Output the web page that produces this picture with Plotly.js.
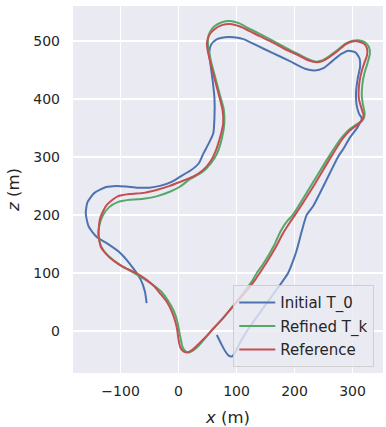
<!DOCTYPE html>
<html>
<head>
<meta charset="utf-8">
<script src="https://cdn.plot.ly/plotly-3.0.1.min.js"></script>
<style>
  html, body { margin: 0; padding: 0; background: #fff; }
  #myDiv { width: 386px; height: 427px; }
</style>
</head>
<body>
<div id="myDiv"></div>
<script>
// trajectories (x, z in metres)
var initX = [-55, -58, -65, -78, -101, -125, -141, -155, -160, -157, -145, -125, -107, -90, -70, -50, -32, -12, 3, 20, 35, 43, 53, 60, 62, 62, 59, 55, 53, 56, 65, 80, 95, 112, 135, 160, 192, 218, 235, 250, 265, 280, 293, 305, 312, 313, 309, 306, 307, 311, 316, 308, 296, 285, 275, 260, 245, 232, 221, 212, 204, 198, 189, 169, 145, 120, 105, 97, 92, 86, 80, 73, 66];
var initZ = [48, 68, 88, 108, 135, 152, 162, 180, 203, 222, 238, 248, 250, 249, 247, 247, 250, 257, 266, 276, 289, 306, 325, 341, 370, 400, 430, 460, 480, 493, 502, 506, 506, 503, 492, 480, 465, 452, 449, 453, 465, 477, 483, 480, 470, 455, 435, 410, 390, 375, 366, 350, 334, 315, 300, 270, 240, 215, 200, 170, 140, 122, 100, 71, 38, 3, -22, -38, -44, -42, -34, -21, -7];

var refinedX = [-30, -18, -8, -2, 1, 4, 7, 12, 18, 26, 35, 48, 60, 78, 97, 115, 128, 135, 147, 164, 176, 188, 197, 227, 259, 279, 293, 307, 318, 321, 318, 316, 317, 320, 326, 330, 328, 321, 310, 300, 288, 274, 259, 247, 238, 225, 205, 185, 163, 140, 120, 105, 89, 75, 62, 54, 51, 51, 56, 63, 71, 78, 79, 75, 66, 55, 40, 20, 3, -15, -38, -60, -84, -105, -120, -131, -137, -138, -133, -122, -101, -80, -60, -45, -30];
var refinedZ = [68, 52, 34, 16, 0, -15, -28, -35, -37, -33, -25, -10, 4, 24, 46, 70, 88, 100, 117, 146, 172, 190, 200, 248, 300, 330, 346, 356, 364, 374, 390, 405, 425, 442, 462, 478, 490, 498, 501, 500, 495, 484, 473, 466, 464, 468, 478, 488, 500, 512, 522, 530, 534, 532, 525, 515, 505, 490, 465, 438, 408, 382, 358, 333, 305, 288, 273, 262, 249, 240, 232, 228, 226, 222, 213, 198, 180, 163, 145, 130, 114, 102, 90, 80, 68];

var refX = [-32, -20, -11, -5, -2, 0, 3, 8, 14, 22, 31, 45, 57, 75, 95, 118, 132, 140, 150, 168, 180, 192, 201, 230, 263, 282, 295, 308, 316, 319, 315, 311, 311, 314, 319, 325, 325, 320, 310, 300, 288, 275, 260, 248, 238, 225, 205, 185, 163, 140, 120, 105, 89, 75, 62, 53, 49, 50, 55, 62, 70, 76, 77, 72, 64, 55, 42, 25, 3, -15, -38, -60, -84, -105, -124, -135, -138, -134, -124, -112, -95, -75, -55, -42, -32];
var refZ = [65, 50, 32, 14, 0, -15, -28, -35, -37, -34, -26, -12, 1, 20, 44, 70, 88, 100, 115, 145, 168, 187, 200, 245, 300, 330, 345, 355, 362, 372, 385, 400, 420, 440, 458, 475, 487, 495, 499, 499, 494, 483, 472, 465, 463, 466, 476, 485, 497, 508, 518, 525, 529, 527, 520, 510, 497, 485, 462, 435, 405, 380, 358, 335, 310, 292, 277, 266, 257, 250, 243, 238, 236, 232, 217, 195, 168, 145, 132, 121, 110, 101, 88, 77, 65];

var names = ['Initial T_0', 'Refined T_k', 'Reference'];
var colors = ['#4C72B0', '#55A868', '#C44E52'];

var data = [
    {x: initX, y: initZ, mode: 'lines', type: 'scatter', name: names[0], legendgroup: 'a',
     line: {color: colors[0], width: 2, shape: 'spline', smoothing: 0.6}},
    {x: refinedX, y: refinedZ, mode: 'lines', type: 'scatter', name: names[1], legendgroup: 'b',
     line: {color: colors[1], width: 2, shape: 'spline', smoothing: 0.6}},
    {x: refX, y: refZ, mode: 'lines', type: 'scatter', name: names[2], legendgroup: 'c',
     line: {color: colors[2], width: 2, shape: 'spline', smoothing: 0.6}}
];

var axisFont = {family: 'DejaVu Sans, sans-serif', size: 14, color: '#262626'};
var titleFont = {family: 'DejaVu Sans, sans-serif', size: 16.5, color: '#262626'};

var layout = {
    width: 386,
    height: 427,
    margin: {l: 73, r: 3, t: 6, b: 54},
    paper_bgcolor: '#ffffff',
    plot_bgcolor: '#EAEAF2',
    font: {family: 'DejaVu Sans, sans-serif', color: '#262626'},
    showlegend: true,
    xaxis: {
        range: [-182, 352.6],
        tickvals: [-100, 0, 100, 200, 300],
        showgrid: true,
        gridcolor: '#ffffff',
        gridwidth: 1.4,
        zeroline: false,
        showline: false,
        ticks: '',
        ticklabelstandoff: 8,
        tickfont: axisFont,
        title: {text: '<i>x</i> (m)', font: titleFont, standoff: 14}
    },
    yaxis: {
        range: [-72.4, 560],
        tickvals: [0, 100, 200, 300, 400, 500],
        showgrid: true,
        gridcolor: '#ffffff',
        gridwidth: 1.4,
        zeroline: false,
        showline: false,
        ticks: '',
        ticklabelstandoff: 12,
        tickfont: axisFont,
        title: {text: '<i>z</i> (m)', font: titleFont, standoff: 9}
    },
    legend: {
        x: 0.517,
        y: 0.0155,
        xanchor: 'left',
        yanchor: 'bottom',
        traceorder: 'grouped',
        tracegroupgap: 1,
        itemwidth: 36,
        bgcolor: 'rgba(234,234,242,0.8)',
        bordercolor: 'rgba(204,204,204,0.9)',
        borderwidth: 1,
        font: {family: 'DejaVu Sans, sans-serif', size: 15, color: '#262626'}
    }
};

var config = {displayModeBar: false, staticPlot: true};

Plotly.newPlot('myDiv', data, layout, config);
</script>
</body>
</html>
